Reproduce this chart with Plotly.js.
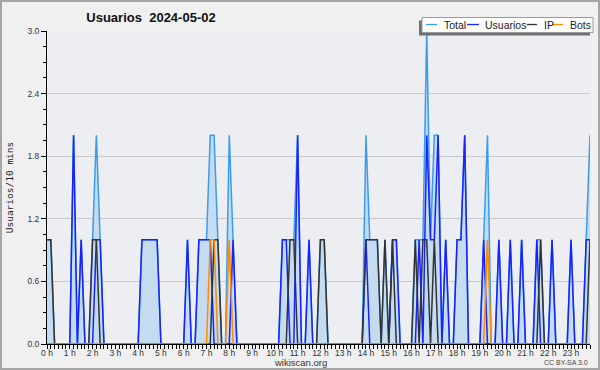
<!DOCTYPE html>
<html>
<head>
<meta charset="utf-8">
<script src="https://cdn.plot.ly/plotly-3.0.1.min.js"></script>
<style>
html,body{margin:0;padding:0;background:#f0f0f0;}
#chart{width:600px;height:370px;}
</style>
</head>
<body>
<div id="chart"></div>
<script>
// 10-minute slots, one row per hour (6 values per hour)
const total = [
  1,1,0,0,0,0,  0,2,0,1,0,0,  1,2,1,0,0,0,  0,0,0,0,0,0,
  0,1,1,1,1,1,  0,0,0,0,0,0,  0,1,0,0,1,1,  1,2,2,1,0,0,
  2,1,0,0,0,0,  0,0,0,0,0,0,  0,0,1,1,1,1,  2,0,0,1,0,0,
  1,1,0,0,0,0,  0,0,0,0,0,0,  2,1,1,1,0,1,  0,1,1,0,0,0,
  0,1,1,1,3,1,  2,2,0,1,0,0,  1,1,2,0,0,0,  0,1,2,0,0,1,
  0,0,1,0,0,1,  0,0,0,1,1,0,  0,1,0,0,0,0,  1,0,0,0,1,2
];
const usuarios = [
  0,0,0,0,0,0,  0,2,0,1,0,0,  0,1,1,0,0,0,  0,0,0,0,0,0,
  0,1,1,1,1,1,  0,0,0,0,0,0,  0,1,0,0,1,1,  1,1,0,0,0,0,
  0,1,0,0,0,0,  0,0,0,0,0,0,  0,0,1,1,0,0,  2,0,0,1,0,0,
  0,0,0,0,0,0,  0,0,0,0,0,0,  1,0,0,0,0,0,  0,1,1,0,0,0,
  0,0,1,0,2,1,  1,2,0,1,0,0,  1,1,2,0,0,0,  0,1,0,0,0,1,
  0,0,1,0,0,1,  0,0,0,1,0,0,  0,1,0,0,0,0,  1,0,0,0,1,1
];
const ip = [
  1,1,0,0,0,0,  0,0,0,0,0,0,  1,1,0,0,0,0,  0,0,0,0,0,0,
  0,0,0,0,0,0,  0,0,0,0,0,0,  0,0,0,0,0,0,  0,0,1,1,0,0,
  0,0,0,0,0,0,  0,0,0,0,0,0,  0,0,0,0,1,1,  0,0,0,0,0,0,
  1,1,0,0,0,0,  0,0,0,0,0,0,  1,1,1,1,0,1,  0,1,0,0,0,0,
  0,1,0,1,1,0,  1,0,0,0,0,0,  0,0,0,0,0,0,  0,0,0,0,0,0,
  0,0,0,0,0,0,  0,0,0,0,1,0,  0,0,0,0,0,0,  0,0,0,0,0,1
];
const bots = [
  0,0,0,0,0,0,  0,0,0,0,0,0,  0,0,0,0,0,0,  0,0,0,0,0,0,
  0,0,0,0,0,0,  0,0,0,0,0,0,  0,0,0,0,0,0,  0,1,1,0,0,0,
  1,0,0,0,0,0,  0,0,0,0,0,0,  0,0,0,0,0,0,  0,0,0,0,0,0,
  0,0,0,0,0,0,  0,0,0,0,0,0,  0,0,0,0,0,0,  0,0,0,0,0,0,
  0,0,0,0,0,0,  0,0,0,0,0,0,  0,0,0,0,0,0,  0,0,1,0,0,0,
  0,0,0,0,0,0,  0,0,0,0,0,0,  0,0,0,0,0,0,  0,0,0,0,0,0
];
const hourLabels = ["0 h","1 h","2 h","3 h","4 h","5 h","6 h","7 h","8 h","9 h","10 h","11 h",
  "12 h","13 h","14 h","15 h","16 h","17 h","18 h","19 h","20 h","21 h","22 h","23 h"];
const yTicks = [0, 0.6, 1.2, 1.8, 2.4, 3.0];
const seriesNames = ["Total","Usuarios","IP","Bots"];
const seriesColors = ["#3a9cf0","#1822ff","#333333","#ff8c00"];

const hours = total.map((_, i) => i / 6);
const hourVals = hourLabels.map((_, i) => i);

const W = 600, H = 370, ML = 47, MR = 10, MT = 31, MB = 26;
const PW = W - ML - MR, PH = H - MT - MB;
const px = v => (v - ML) / PW;
const py = v => (H - MB - v) / PH;
const FONT = "Liberation Sans, Arial, sans-serif";

const traces = [
  {x: hours, y: total, name: seriesNames[0], type: "scatter", mode: "lines",
   line: {color: seriesColors[0], width: 1.5}, fill: "tozeroy", fillcolor: "#c5dcf0"},
  {x: hours, y: usuarios, name: seriesNames[1], type: "scatter", mode: "lines",
   line: {color: seriesColors[1], width: 1.5}},
  {x: hours, y: ip, name: seriesNames[2], type: "scatter", mode: "lines",
   line: {color: seriesColors[2], width: 1.5}},
  {x: hours, y: bots, name: seriesNames[3], type: "scatter", mode: "lines",
   line: {color: seriesColors[3], width: 1.5}}
];

// custom legend box (positions in pixels converted to paper coords)
const legendItems = [
  {l0: 426, l1: 437, t: 442},
  {l0: 467, l1: 479, t: 483},
  {l0: 527, l1: 537, t: 542},
  {l0: 552, l1: 563, t: 568}
];
const shapes = [
  {type: "rect", xref: "paper", yref: "paper", x0: px(1), x1: px(599), y0: py(1), y1: py(369),
   line: {color: "#a6a6a6", width: 2}, fillcolor: "rgba(0,0,0,0)", layer: "above"},
  {type: "rect", xref: "paper", yref: "paper", x0: px(419), x1: px(590), y0: py(20.5), y1: py(35.5),
   line: {width: 0}, fillcolor: "#707070", layer: "above"},
  {type: "rect", xref: "paper", yref: "paper", x0: px(422), x1: px(593), y0: py(17.5), y1: py(32.5),
   line: {color: "#9a9a9a", width: 1}, fillcolor: "#ffffff", layer: "above"}
];
const annotations = [];
legendItems.forEach((it, k) => {
  shapes.push({type: "line", xref: "paper", yref: "paper", x0: px(it.l0), x1: px(it.l1),
    y0: py(24.5), y1: py(24.5), line: {color: seriesColors[k], width: 1.3}, layer: "above"});
  annotations.push({xref: "paper", yref: "paper", x: px(it.t), y: py(24.5), xanchor: "left",
    yanchor: "middle", text: seriesNames[k], showarrow: false,
    font: {family: FONT, size: 10.5, color: "#222"}});
});
annotations.push({xref: "paper", yref: "paper", x: px(300), y: py(362), xanchor: "center",
  yanchor: "middle", text: "wikiscan.org", showarrow: false, font: {family: FONT, size: 9.5, color: "#333"}});
annotations.push({xref: "paper", yref: "paper", x: px(590), y: py(362), xanchor: "right",
  yanchor: "middle", text: "CC BY-SA 3.0", showarrow: false, font: {family: FONT, size: 7, color: "#444"}});

const layout = {
  width: W, height: H,
  margin: {l: ML, r: MR, t: MT, b: MB, pad: 0},
  paper_bgcolor: "#f0f0f0", plot_bgcolor: "#eceef1",
  showlegend: false,
  title: {text: "<b>Usuarios\u00a0\u00a02024-05-02</b>", xref: "container", yref: "container",
    x: 151 / W, xanchor: "center", y: 1 - 17 / H, yanchor: "middle",
    font: {family: FONT, size: 13, color: "#111"}},
  xaxis: {range: [0, hours[hours.length - 1]], tickmode: "array", tickvals: hourVals, ticktext: hourLabels,
    showgrid: false, zeroline: false, showline: true, linecolor: "#000", linewidth: 1,
    ticks: "outside", ticklen: 4, tickcolor: "#000", tickwidth: 1, ticklabelstandoff: -3,
    tickfont: {family: FONT, size: 8.5, color: "#333"},
    minor: {tickmode: "linear", tick0: 0, dtick: 1 / 6, ticks: "outside", ticklen: 4, tickcolor: "#000", showgrid: false}},
  yaxis: {range: [0, 3.0], tickmode: "array", tickvals: yTicks, tickformat: ".1f",
    showgrid: true, gridcolor: "#c9c9c9", gridwidth: 1, zeroline: false,
    showline: true, linecolor: "#000", linewidth: 1,
    ticks: "outside", ticklen: 5, tickcolor: "#000",
    tickfont: {family: FONT, size: 8.5, color: "#333"},
    minor: {tickmode: "linear", tick0: 0, dtick: 0.15, ticks: "outside", ticklen: 3, tickcolor: "#000", showgrid: false},
    title: {text: "Usuarios/10 mins", standoff: 12, font: {family: "DejaVu Sans Mono, monospace", size: 9.5, color: "#222"}}},
  shapes: shapes,
  annotations: annotations
};

Plotly.newPlot("chart", traces, layout, {staticPlot: true, displayModeBar: false});
</script>
</body>
</html>
